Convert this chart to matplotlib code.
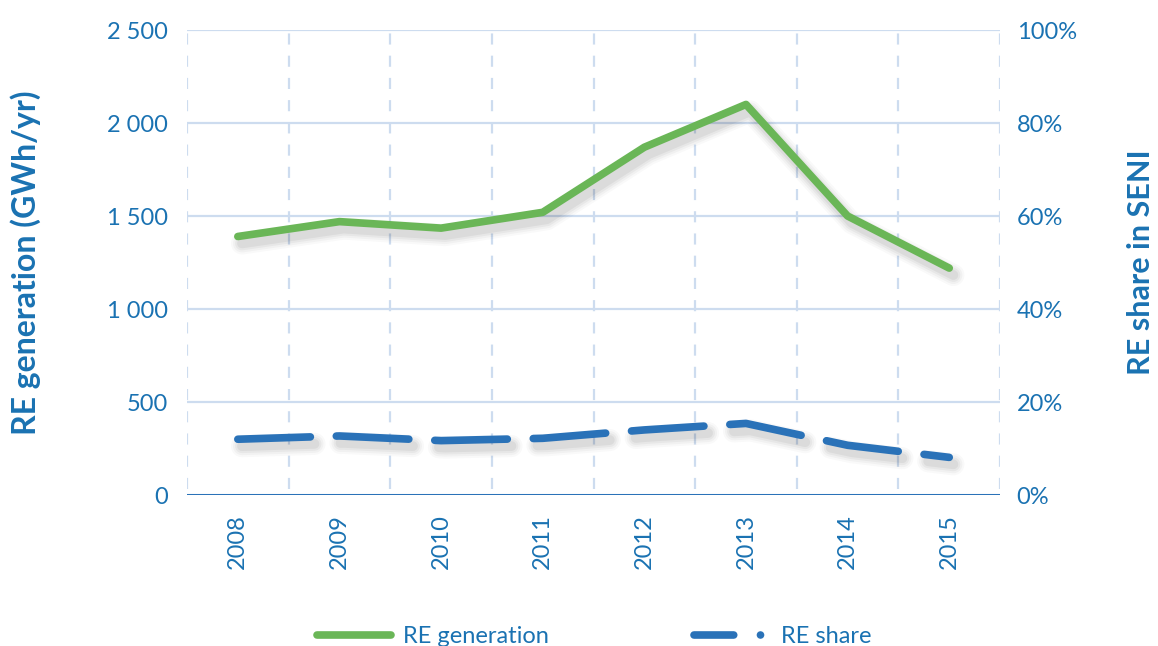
import matplotlib
matplotlib.use("Agg")
import matplotlib.pyplot as plt
import matplotlib.patheffects as pe
from matplotlib.lines import Line2D

years = ["2008", "2009", "2010", "2011", "2012", "2013", "2014", "2015"]
generation = [1390, 1470, 1435, 1520, 1870, 2100, 1500, 1220]
share = [12.0, 12.7, 11.7, 12.2, 14.0, 15.4, 10.7, 8.1]
left_ticks = [0, 500, 1000, 1500, 2000, 2500]
left_labels = ["0", "500", "1 000", "1 500", "2 000", "2 500"]
right_ticks = [0, 20, 40, 60, 80, 100]
right_labels = ["0%", "20%", "40%", "60%", "80%", "100%"]

GREEN = "#6ab657"
BLUE = "#2a72b8"
TXT = "#1a72b2"
GRID = "#cddcef"

plt.rcParams['font.family'] = ['Lato', 'DejaVu Sans']

fig = plt.figure(figsize=(11.58, 6.46), dpi=100)
ax = fig.add_axes([0.1615, 0.2337, 0.7021, 0.7198])
ax2 = ax.twinx()

x = list(range(len(years)))

def shadow():
    effs = []
    for lw, a in [(16, 0.025), (13, 0.03), (10, 0.04), (7, 0.05)]:
        effs.append(pe.SimpleLineShadow(offset=(3, -5), shadow_color="black", alpha=a, linewidth=lw))
    effs.append(pe.Normal())
    return effs

ax.plot(x, generation, color=GREEN, lw=5.5, solid_capstyle="round", solid_joinstyle="round",
        path_effects=shadow(), zorder=5)
ax2.plot(x, share, color=BLUE, lw=5.5, dashes=(9.5, 3.4), dash_capstyle="round",
         dash_joinstyle="round", path_effects=shadow(), zorder=5)

ax.set_xlim(-0.5, len(years) - 0.5)
ax.set_ylim(0, 2500)
ax2.set_ylim(0, 100)

ax.set_xticks(x)
ax.set_xticklabels(years, rotation=90, color=TXT, fontsize=17)
ax.set_yticks(left_ticks)
ax.set_yticklabels(left_labels, color=TXT, fontsize=17)
ax2.set_yticks(right_ticks)
ax2.set_yticklabels(right_labels, color=TXT, fontsize=17)
for a in (ax, ax2):
    a.tick_params(length=0)
    for s in a.spines.values():
        s.set_visible(False)
ax.tick_params(axis="y", pad=14)
ax2.tick_params(axis="y", pad=12)
ax.tick_params(axis="x", pad=14)

# grid
ax.set_axisbelow(True)
for v in left_ticks[1:]:
    ax.axhline(v, color=GRID, lw=1.6, zorder=0)
for b in [i - 0.5 for i in range(len(years) + 1)]:
    ax.plot([b, b], [30, 2500], color=GRID, lw=1.6, dashes=(5, 5), zorder=0)
ax.axhline(0, color=BLUE, lw=2.2, zorder=3)

fig.text(26 / 1158, 1 - 262.5 / 646, "RE generation (GWh/yr)", color=TXT, fontsize=23,
         fontweight="bold", rotation=90, ha="center", va="center")
fig.text(1141 / 1158, 1 - 262.5 / 646, "RE share in SENI", color=TXT, fontsize=22,
         fontweight="bold", rotation=90, ha="center", va="center")

h1 = Line2D([], [], color=GREEN, lw=5.5, solid_capstyle="round")
h2 = Line2D([], [], color=BLUE, lw=5.5, dashes=(5.2, 3.5, 0.01, 3), dash_capstyle="round")
fig.legend([h1, h2], ["RE generation", "RE share"], loc="center", bbox_to_anchor=(0.513, 0.015),
           ncol=2, frameon=False, fontsize=17, handlelength=3.15, columnspacing=6.15,
           labelcolor=TXT, handletextpad=0.5)

fig.savefig("out.png", dpi=100)
